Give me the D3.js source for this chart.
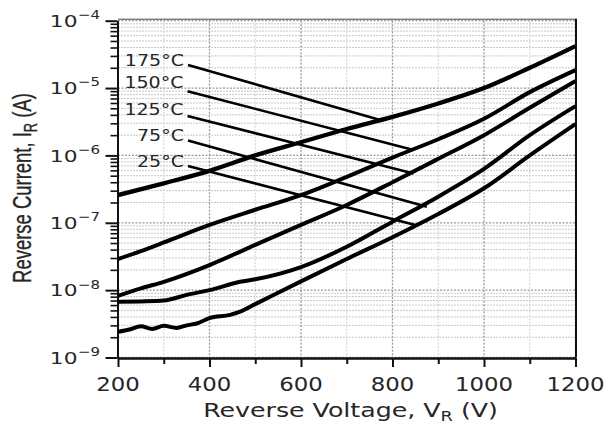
<!DOCTYPE html>
<html><head><meta charset="utf-8">
<script src="https://cdn.jsdelivr.net/npm/d3@7"></script>
<style>body{margin:0;background:#fff} svg{display:block}</style>
</head><body>
<svg id="c" width="607" height="428"></svg>
<script>
// ---- data ----
const temps = ["175°C", "150°C", "125°C", "75°C", "25°C"];
const v175 = [200, 300, 400, 500, 600, 700, 800, 900, 1000, 1100, 1200];
const i175 = [2.58e-7, 3.85e-7, 5.9e-7, 1.0e-6, 1.57e-6, 2.47e-6, 3.73e-6, 5.9e-6, 1.0e-5, 2.0e-5, 4.2e-5];
const v150 = [200, 250, 300, 400, 500, 600, 700, 800, 900, 1000, 1100, 1200];
const i150 = [2.9e-8, 3.8e-8, 5.1e-8, 9.3e-8, 1.56e-7, 2.57e-7, 4.8e-7, 9.3e-7, 1.74e-6, 3.5e-6, 8.7e-6, 1.85e-5];
const v125 = [200, 250, 300, 400, 500, 600, 700, 800, 900, 1000, 1100, 1200];
const i125 = [8.2e-9, 1.06e-8, 1.33e-8, 2.36e-8, 4.7e-8, 9.3e-8, 1.84e-7, 4.0e-7, 8.9e-7, 2.0e-6, 5.1e-6, 1.27e-5];
const v75 = [200, 250, 300, 350, 400, 467, 500, 600, 700, 800, 900, 1000, 1100, 1200];
const i75 = [6.7e-9, 6.8e-9, 7.0e-9, 8.5e-9, 1.0e-8, 1.33e-8, 1.45e-8, 2.2e-8, 4.4e-8, 1.04e-7, 2.44e-7, 6.3e-7, 2.0e-6, 5.4e-6];
const v25 = [200, 225, 250, 275, 300, 328, 350, 372, 400, 445, 467, 500, 600, 700, 800, 900, 1000, 1100, 1200];
const i25 = [2.4e-9, 2.6e-9, 2.9e-9, 2.65e-9, 2.95e-9, 2.75e-9, 3.0e-9, 3.2e-9, 3.85e-9, 4.3e-9, 4.8e-9, 6.2e-9, 1.35e-8, 2.9e-8, 6.1e-8, 1.35e-7, 3.25e-7, 1.0e-6, 2.92e-6];
const leaderStartV = [353, 352, 352, 353, 353];
const leaderStartI = [2.2e-5, 9.0e-6, 3.85e-6, 1.66e-6, 6.97e-7];
const leaderEndV = [773, 846, 846, 875, 850];
const leaderEndI = [3.36e-6, 1.2e-6, 5.4e-7, 1.73e-7, 9.3e-8];
const xTickLabels = [200, 400, 600, 800, 1000, 1200];
const xMinorTicks = [300, 500, 700, 900, 1100];
const yExponents = [-4, -5, -6, -7, -8, -9];
const xTitle = ["Reverse Voltage, V", "R", " (V)"];
const yTitle = ["Reverse Current, I", "R", " (A)"];

const seriesV = [v175, v150, v125, v75, v25];
const seriesI = [i175, i150, i125, i75, i25];

// ---- scales ----
const L = 118, R = 575.5, T = 20.7, B = 357.5;
const x = d3.scaleLinear().domain([200, 1200]).range([L, R]);
const y = d3.scaleLog().domain([1e-9, 1e-4]).range([B, T]);
const svg = d3.select("#c");
const FONT = "DejaVu Sans, Verdana, sans-serif";
const TXT = "#262626";

// grid values
const majorY = yExponents.map(e => Math.pow(10, e));
const minorY = [];
for (let e = -9; e < -4; e++) for (let k = 2; k <= 9; k++) minorY.push(k * Math.pow(10, e));
const gridV = d3.range(200, 1201, 100);

const g = svg.append("g");
g.selectAll(".hmin").data(minorY).join("line")
  .attr("x1", L).attr("x2", R).attr("y1", d => y(d)).attr("y2", d => y(d))
  .attr("stroke", "#c8c8c8").attr("stroke-width", 1).attr("stroke-dasharray", "2,1");
g.selectAll(".vg").data(gridV).join("line")
  .attr("x1", d => x(d)).attr("x2", d => x(d)).attr("y1", T).attr("y2", B)
  .attr("stroke", d => (d % 200 === 0) ? "#9a9a9a" : "#cfcfcf")
  .attr("stroke-width", d => (d % 200 === 0) ? 1.3 : 1)
  .attr("stroke-dasharray", "2,1.5");
g.selectAll(".hmaj").data(majorY).join("line")
  .attr("x1", L).attr("x2", R).attr("y1", d => y(d)).attr("y2", d => y(d))
  .attr("stroke", "#9a9a9a").attr("stroke-width", 1.3).attr("stroke-dasharray", "2,1.5");

// frame top/right
svg.append("line").attr("x1", L).attr("x2", R).attr("y1", T - 1.5).attr("y2", T - 1.5)
  .attr("stroke", "#444").attr("stroke-width", 1);
svg.append("line").attr("x1", R + 0.5).attr("x2", R + 0.5).attr("y1", T - 2).attr("y2", B)
  .attr("stroke", "#111").attr("stroke-width", 2);

function styleAxis(sel) {
  sel.selectAll("path.domain").attr("stroke", "#111").attr("stroke-width", 2);
  sel.selectAll(".tick line").attr("stroke", "#111").attr("stroke-width", 2);
  sel.selectAll(".tick text").remove();
}
const yMinorAx = svg.append("g").attr("transform", `translate(${L - 0.5},0)`)
  .call(d3.axisLeft(y).tickValues(minorY).tickSize(7).tickSizeOuter(0).tickFormat(""));
styleAxis(yMinorAx); yMinorAx.selectAll(".tick line").attr("stroke-width", 1.6);
const yMajorAx = svg.append("g").attr("transform", `translate(${L - 0.5},0)`)
  .call(d3.axisLeft(y).tickValues(majorY).tickSize(12).tickSizeOuter(0).tickFormat(""));
styleAxis(yMajorAx);
const xMinorAx = svg.append("g").attr("transform", `translate(0,${B + 0.5})`)
  .call(d3.axisBottom(x).tickValues(xMinorTicks).tickSize(6).tickSizeOuter(0).tickFormat(""));
styleAxis(xMinorAx);
const xMajorAx = svg.append("g").attr("transform", `translate(0,${B + 0.5})`)
  .call(d3.axisBottom(x).tickValues(xTickLabels).tickSize(9).tickSizeOuter(0).tickFormat(""));
styleAxis(xMajorAx);

// ---- curves ----
const line = d3.line().x(d => x(d[0])).y(d => y(d[1])).curve(d3.curveMonotoneX);
svg.append("clipPath").attr("id", "pc").append("rect")
  .attr("x", L).attr("y", T - 3).attr("width", R - L + 1).attr("height", B - T + 3);
svg.append("g").attr("clip-path", "url(#pc)")
  .selectAll("path").data(seriesV.map((vs, k) => vs.map((v, j) => [v, seriesI[k][j]])))
  .join("path").attr("d", line).attr("fill", "none").attr("stroke", "#000")
  .attr("stroke-width", (d, i) => i === 0 ? 4.3 : 4).attr("stroke-linejoin", "round").attr("stroke-linecap", "butt");

// leader lines
svg.append("g").selectAll("line").data(temps).join("line")
  .attr("x1", (d, i) => x(leaderStartV[i])).attr("y1", (d, i) => y(leaderStartI[i]))
  .attr("x2", (d, i) => x(leaderEndV[i])).attr("y2", (d, i) => y(leaderEndI[i]))
  .attr("stroke", "#000").attr("stroke-width", 2.6);

// temperature labels
const labelOffsets = [-4.5, -8.5, -6, -5, -4.5];
svg.append("g").selectAll("text").data(temps).join("text")
  .attr("transform", (d, i) => `translate(${x(leaderStartV[i]) - 4},${y(leaderStartI[i]) + labelOffsets[i] + 5.5}) scale(1.27,1)`)
  .attr("text-anchor", "end").attr("font-family", FONT).attr("font-size", 15)
  .attr("fill", TXT).text(d => d);

// x tick labels
svg.append("g").selectAll("text").data(xTickLabels).join("text")
  .attr("transform", d => `translate(${x(d)},390.5) scale(1.17,1)`)
  .attr("text-anchor", "middle").attr("font-family", FONT).attr("font-size", 19.5)
  .attr("fill", TXT).text(d => d);

// y tick labels
const ylab = svg.append("g");
yExponents.forEach(e => {
  const yy = y(Math.pow(10, e));
  ylab.append("text").attr("transform", `translate(77.5,${yy + 6.3}) scale(1.45,1)`)
    .attr("text-anchor", "end").attr("font-family", FONT).attr("font-size", 15)
    .attr("fill", TXT).text("10");
  ylab.append("text").attr("transform", `translate(78,${yy - 1.6}) scale(1.2,1)`)
    .attr("text-anchor", "start").attr("font-family", FONT).attr("font-size", 12.5)
    .attr("fill", TXT).text("\u2212" + Math.abs(e));
});

// titles
function subText(sel, parts, fs) {
  sel.append("tspan").text(parts[0]);
  sel.append("tspan").attr("font-size", fs * 0.7).attr("dy", fs * 0.22).text(parts[1]);
  sel.append("tspan").attr("dy", -fs * 0.22).text(parts[2]);
}
const xt = svg.append("text").attr("text-anchor", "middle").attr("font-family", FONT)
  .attr("font-size", 19.5).attr("fill", TXT);
subText(xt, xTitle, 19.5);
{
  const w = xt.node().getBBox().width;
  xt.attr("transform", `translate(350.5,417) scale(${295 / w},1)`);
}
const yt = svg.append("text").attr("text-anchor", "middle")
  .attr("font-family", "Liberation Sans Narrow, Liberation Sans, Arial, sans-serif")
  .attr("font-size", 26.5).attr("fill", TXT).attr("stroke", TXT).attr("stroke-width", 0.35);
subText(yt, yTitle, 26.5);
{
  const w = yt.node().getBBox().width;
  yt.attr("transform", `translate(30.8,188) rotate(-90) scale(${190 / w},1)`);
}
</script>
</body></html>
